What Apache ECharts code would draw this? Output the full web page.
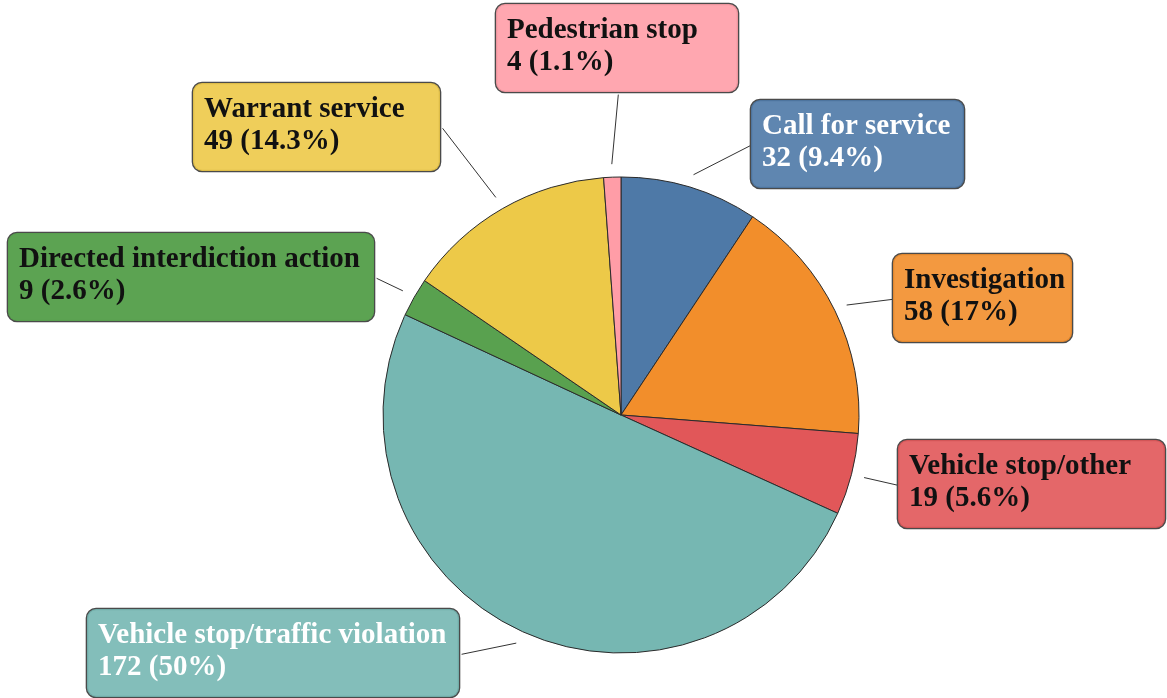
<!DOCTYPE html>
<html>
<head>
<meta charset="utf-8">
<script src="https://cdn.jsdelivr.net/npm/echarts@6/dist/echarts.min.js"></script>
<style>
html, body { margin: 0; padding: 0; background: #fff; }
#chart { width: 1167px; height: 698px; }
</style>
</head>
<body>
<div id="chart"></div>
<script>
// data, clockwise from 12 o'clock
var categories = ['Call for service', 'Investigation', 'Vehicle stop/other',
  'Vehicle stop/traffic violation', 'Directed interdiction action', 'Warrant service', 'Pedestrian stop'];
var counts = [32, 58, 19, 172, 9, 49, 4];
var percents = ['9.4', '17', '5.6', '50', '2.6', '14.3', '1.1'];

var sliceColors = ['#4e79a7', '#f28e2b', '#e15759', '#76b7b2', '#59a14f', '#edc948', '#ff9da7'];
var boxColors = ['rgba(78,121,167,0.9)', 'rgba(242,142,43,0.9)', 'rgba(225,87,89,0.9)',
  'rgba(118,183,178,0.9)', 'rgba(89,161,79,0.98)', 'rgba(237,201,72,0.9)', 'rgba(255,157,167,0.9)'];
var textColors = ['#ffffff', '#111', '#111', '#ffffff', '#111', '#111', '#111'];

// label box top-left corner and width (layout only)
var boxPos = [[751, 100], [893, 254], [898, 440], [87, 609], [8, 233], [193, 83], [496, 4]];
var boxW = [215, 181, 269, 374, 368, 249, 244];

var cx = 621, cy = 415, R = 238;

var total = counts.reduce(function (s, v) { return s + v; }, 0);
var midAngle = [];
var acc = 0;
for (var i = 0; i < counts.length; i++) {
  midAngle.push((acc + counts[i] / 2) / total * Math.PI * 2);
  acc += counts[i];
}

var seriesData = categories.map(function (name, i) {
  return {
    name: name,
    value: counts[i],
    itemStyle: { color: sliceColors[i] },
    label: {
      backgroundColor: boxColors[i],
      color: textColors[i],
      width: boxW[i] - 24
    }
  };
});

var myChart = echarts.init(document.getElementById('chart'), null, { renderer: 'canvas' });

var option = {
  backgroundColor: '#ffffff',
  animation: false,
  series: [{
    type: 'pie',
    center: [cx, cy],
    radius: [0, R],
    startAngle: 90,
    clockwise: true,
    avoidLabelOverlap: false,
    silent: true,
    itemStyle: { borderColor: '#2b2b2b', borderWidth: 1 },
    label: {
      show: true,
      position: 'outside',
      formatter: function (p) {
        return p.name + '\n' + p.value + ' (' + percents[p.dataIndex] + '%)';
      },
      fontFamily: '"Liberation Serif", "Times New Roman", serif',
      fontWeight: 'bold',
      fontSize: 29,
      lineHeight: 32,
      overflow: 'none',
      padding: [11, 11, 13, 11],
      borderColor: '#4a4a4a',
      borderWidth: 1.3,
      borderRadius: 9
    },
    labelLine: {
      show: true,
      lineStyle: { color: '#333', width: 1 }
    },
    labelLayout: function (params) {
      var i = params.dataIndex;
      var b = boxPos[i];
      var w = params.labelRect.width, h = params.labelRect.height;
      var a = midAngle[i];
      var sx = cx + Math.sin(a) * (R + 13);
      var sy = cy - Math.cos(a) * (R + 13);
      var mids = [
        [b[0] + w / 2, b[1]], [b[0] + w, b[1] + h / 2],
        [b[0] + w / 2, b[1] + h], [b[0], b[1] + h / 2]
      ];
      var best = mids[0], bd = Infinity;
      mids.forEach(function (m) {
        var d = Math.hypot(m[0] - sx, m[1] - sy);
        if (d < bd) { bd = d; best = m; }
      });
      return {
        x: b[0], y: b[1], align: 'left', verticalAlign: 'top',
        labelLinePoints: [[sx, sy], best]
      };
    },
    data: seriesData
  }]
};
myChart.setOption(option);
</script>
</body>
</html>
